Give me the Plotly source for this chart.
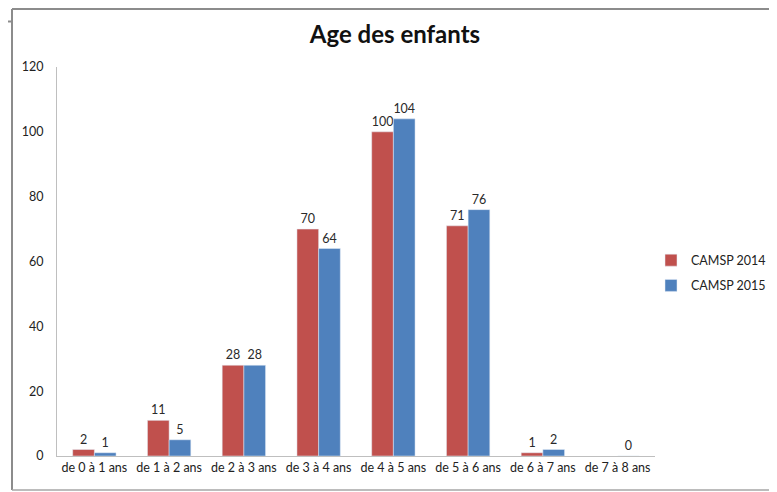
import plotly.graph_objects as go

categories = ["de 0 à 1 ans", "de 1 à 2 ans", "de 2 à 3 ans", "de 3 à 4 ans",
              "de 4 à 5 ans", "de 5 à 6 ans", "de 6 à 7 ans", "de 7 à 8 ans"]
camsp_2014 = [2, 11, 28, 70, 100, 71, 1, None]
camsp_2015 = [1, 5, 28, 64, 104, 76, 2, 0]
y_ticks = [0, 20, 40, 60, 80, 100, 120]

FONT = "Lato, 'Open Sans', sans-serif"
OFF = 8  # page body margin offset
W, H = 777 - OFF, 492 - OFF
# plot area in screen pixels
SX0, SX1, SY0, SY1 = 57, 655, 67, 456
L, R, T, B = SX0 - OFF, W - (SX1 - OFF), SY0 - OFF, H - (SY1 - OFF)
pw, ph = W - L - R, H - T - B

def px(x):
    return (x - OFF - L) / pw

def py(y):
    return (H - B - (y - OFF)) / ph

fig = go.Figure()
fig.add_trace(go.Bar(name="CAMSP 2014", x=categories, y=camsp_2014,
                     marker_color="#C0504D", text=camsp_2014,
                     textposition="outside", cliponaxis=False,
                     legendgroup="a",
                     textfont=dict(size=12.5, color="#2a2a2a", family=FONT)))
fig.add_trace(go.Bar(name="CAMSP 2015", x=categories, y=camsp_2015,
                     marker_color="#4F81BD", text=camsp_2015,
                     textposition="outside", cliponaxis=False,
                     legendgroup="b",
                     textfont=dict(size=12.5, color="#2a2a2a", family=FONT)))

fig.update_layout(
    width=W, height=H,
    margin=dict(l=L, r=R, t=T, b=B, autoexpand=False),
    paper_bgcolor="white", plot_bgcolor="white",
    barmode="group", bargap=0.42, bargroupgap=0,
    font=dict(family=FONT, size=12.5, color="#222"),
    title=dict(text="<b>Age des enfants</b>", x=px(395), xref="paper",
               xanchor="center", y=1 - (35 - OFF) / H, yanchor="middle",
               font=dict(size=24, color="#111", family=FONT)),
    legend=dict(x=px(651), y=py(273), xanchor="left", yanchor="middle",
                font=dict(size=12.5, family=FONT), itemwidth=30,
                tracegroupgap=6, bgcolor="rgba(0,0,0,0)"),
    xaxis=dict(showgrid=False, showline=True, linecolor="#BFBFBF",
               linewidth=1, ticks="", automargin=False,
               tickfont=dict(size=12.5)),
    yaxis=dict(range=[0, 120], tickvals=y_ticks, showgrid=False,
               showline=True, linecolor="#BFBFBF", linewidth=1,
               ticks="", zeroline=False, automargin=False,
               ticklabelstandoff=10, tickfont=dict(size=12.5)),
)

frame = "#8C8C8C"
fig.add_shape(type="line", xref="paper", yref="paper", x0=px(12), x1=px(776),
              y0=py(9), y1=py(9), line=dict(color=frame, width=2))
fig.add_shape(type="line", xref="paper", yref="paper", x0=px(12), x1=px(12),
              y0=py(9), y1=py(490), line=dict(color=frame, width=2))
fig.add_shape(type="line", xref="paper", yref="paper", x0=px(12), x1=px(776),
              y0=py(490), y1=py(490), line=dict(color="#A6A6A6", width=1.5))
fig.add_shape(type="line", xref="paper", yref="paper", x0=px(775.5), x1=px(775.5),
              y0=py(9), y1=py(490), line=dict(color="#C8C8C8", width=1.5))
fig.add_shape(type="line", xref="paper", yref="paper", x0=px(8), x1=px(12),
              y0=py(21.5), y1=py(21.5), line=dict(color=frame, width=2))

fig.write_html("out.html")
